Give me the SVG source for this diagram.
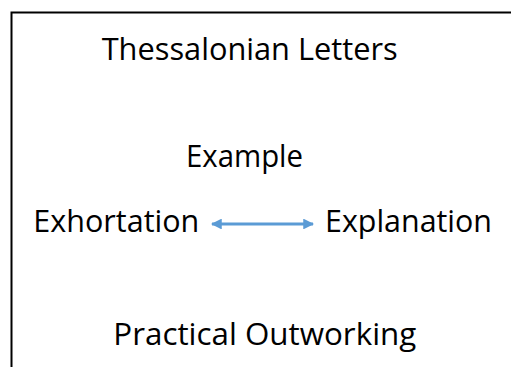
<svg xmlns="http://www.w3.org/2000/svg" width="511" height="367" viewBox="0 0 511 367">
<defs>
<style>
.lbl{font-family:"Open Sans","Liberation Sans",sans-serif;font-size:31.5px;fill:#000;}
.con{stroke:#5b9bd5;stroke-width:3;fill:none;}
</style>
<marker id="ah" viewBox="0 0 10 10" refX="9" refY="5" markerWidth="3.6" markerHeight="3.6" orient="auto-start-reverse" markerUnits="strokeWidth">
<path d="M0,0 L10,5 L0,10 z" fill="#5b9bd5"/>
</marker>
</defs>
<rect x="0" y="0" width="511" height="367" fill="#fff"/>
<rect id="frame" x="11.5" y="12.5" width="520" height="380" fill="none" stroke="#000" stroke-width="2"/>
<g id="title"><text class="lbl" x="101.7" y="60" textLength="296" lengthAdjust="spacingAndGlyphs">Thessalonian Letters</text></g>
<g id="example"><text class="lbl" x="186" y="166.7" textLength="117" lengthAdjust="spacingAndGlyphs">Example</text></g>
<g id="exhortation"><text class="lbl" x="33.3" y="231.7" textLength="166" lengthAdjust="spacingAndGlyphs">Exhortation</text></g>
<g id="explanation"><text class="lbl" x="325" y="231.7" textLength="167" lengthAdjust="spacingAndGlyphs">Explanation</text></g>
<g id="practical"><text class="lbl" x="113.3" y="345" textLength="303" lengthAdjust="spacingAndGlyphs">Practical Outworking</text></g>
<g id="connectors">
<line class="con" x1="212" y1="224" x2="313" y2="224" marker-start="url(#ah)" marker-end="url(#ah)"/>
</g>
</svg>
